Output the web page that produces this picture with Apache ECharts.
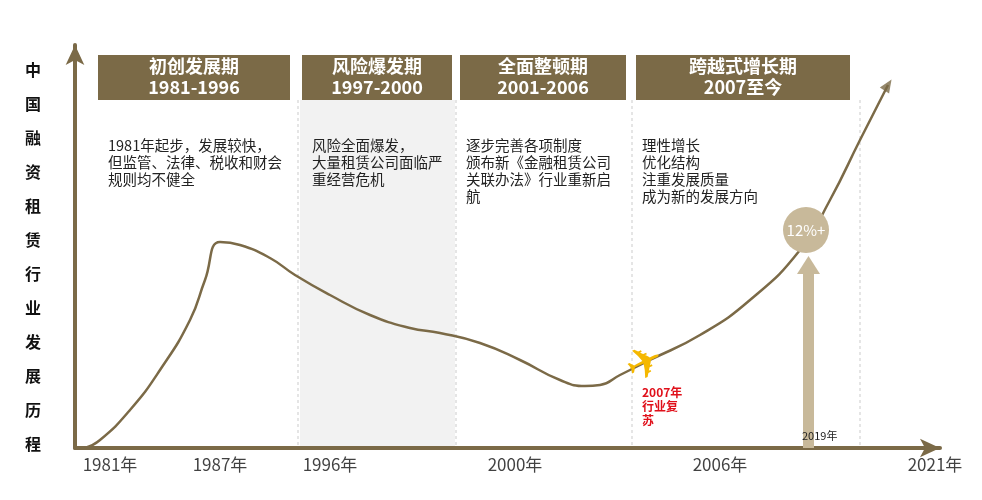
<!DOCTYPE html><html><head><meta charset="utf-8"><script src="https://cdn.jsdelivr.net/npm/echarts@6/dist/echarts.min.js"></script></head><body style="margin:0"><div id="c" style="width:982px;height:500px"></div><script>
const curveX=[10,25,55,85,115,130,145,165,195,220,255,295,335,365,405,445,485,510,525,545,575,625,675,725,755,785,813];
const curveY=[0,8,38,78,128,168,206,203,190,173,153,133,120,115,105,88,68,62,63,73,88,113,148,198,248,308,363];
const tickLabels=['1981年','1987年','1996年','2000年','2006年','2021年'];
const tickPos=[35,145,255,440,645,860];
const phases=['初创发展期\n1981-1996','风险爆发期\n1997-2000','全面整顿期\n2001-2006','跨越式增长期\n2007至今'];
const phaseText=['1981年起步，发展较快，\n但监管、法律、税收和财会\n规则均不健全','风险全面爆发，\n大量租赁公司面临严\n重经营危机','逐步完善各项制度\n颁布新《金融租赁公司\n关联办法》行业重新启\n航','理性增长\n优化结构\n注重发展质量\n成为新的发展方向'];
const yTitle='中国融资租赁行业发展历程';
const C='#7b6a47';
const ch=echarts.init(document.getElementById('c'));
const g=[];
g.push({type:'rect',shape:{x:300,y:100,width:155,height:346},style:{fill:'#f2f2f2'},z:-1});
[298,456,632,860].forEach(x=>g.push({type:'line',shape:{x1:x,y1:100,x2:x,y2:446},style:{stroke:'#ccc',lineDash:[3,3],lineWidth:1}}));
const boxes=[[98,192],[302,150],[460,166],[636,214]];
boxes.forEach((b,i)=>{g.push({type:'rect',shape:{x:b[0],y:55,width:b[1],height:45},style:{fill:C}});
g.push({type:'text',x:b[0]+b[1]/2,y:77,style:{text:phases[i],fill:'#fff',font:'bold 18px "Noto Sans CJK SC"',align:'center',verticalAlign:'middle',lineHeight:21}});});
const tx=[108,312,466,642];
phaseText.forEach((t,i)=>g.push({type:'text',x:tx[i],y:137,style:{text:t,fill:'#222',font:'14.5px "Noto Sans CJK SC"',lineHeight:17}}));
yTitle.split('').forEach((c,i)=>g.push({type:'text',x:33,y:70+i*34,style:{text:c,fill:'#111',font:'bold 16px "Noto Sans CJK SC"',align:'center',verticalAlign:'middle'}}));
g.push({type:'rect',shape:{x:803,y:272,width:11,height:176},style:{fill:'#c8b99a'},z:10});
g.push({type:'polygon',shape:{points:[[797,274],[820,274],[808.5,256]]},style:{fill:'#c8b99a'},z:10});
g.push({type:'circle',shape:{cx:806,cy:230,r:23},style:{fill:'#c8b99a'},z:10});
g.push({type:'text',x:806,y:230,z:11,style:{text:'12%+',fill:'#fff',font:'15px "Noto Sans CJK SC"',align:'center',verticalAlign:'middle'}});
g.push({type:'text',x:802,y:430,z:11,style:{text:'2019年',fill:'#222',font:'11px "Noto Sans CJK SC"'}});
g.push({type:'text',x:642,y:385,style:{text:'2007年\n行业复\n苏',fill:'#e0101a',font:'bold 12px "Noto Sans CJK SC"',lineHeight:14}});
g.push({type:'text',x:646,y:366,rotation:0.45,z:10,style:{text:'✈',fill:'#f5b800',font:'44px "DejaVu Sans"',align:'center',verticalAlign:'middle'}});
ch.setOption({animation:false,
grid:{left:75,right:42,top:45,bottom:52},
xAxis:{type:'value',min:0,max:865,axisLine:{lineStyle:{color:C,width:4},symbol:['none','arrow'],symbolSize:[14,20]},axisTick:{show:false},axisLabel:{show:false},splitLine:{show:false}},
yAxis:{type:'value',min:0,max:403,axisLine:{show:true,lineStyle:{color:C,width:4},symbol:['none','arrow'],symbolSize:[14,20]},axisTick:{show:false},axisLabel:{show:false},splitLine:{show:false}},
graphic:g,
series:[{type:'line',smooth:true,symbol:'none',data:curveX.map((x,i)=>[x,curveY[i]]),lineStyle:{color:C,width:2.5},z:5},
{type:'scatter',data:[[curveX[curveX.length-1],curveY[curveY.length-1]]],symbol:'triangle',symbolSize:[11,13],symbolRotate:-33,itemStyle:{color:C},z:6},
{type:'scatter',symbolSize:0,data:tickPos.map((x,i)=>({value:[x,0],label:{formatter:tickLabels[i]}})),label:{show:true,position:'bottom',distance:8,fontSize:17,color:'#111',fontFamily:'Noto Sans CJK SC'}}]});
</script></body></html>
